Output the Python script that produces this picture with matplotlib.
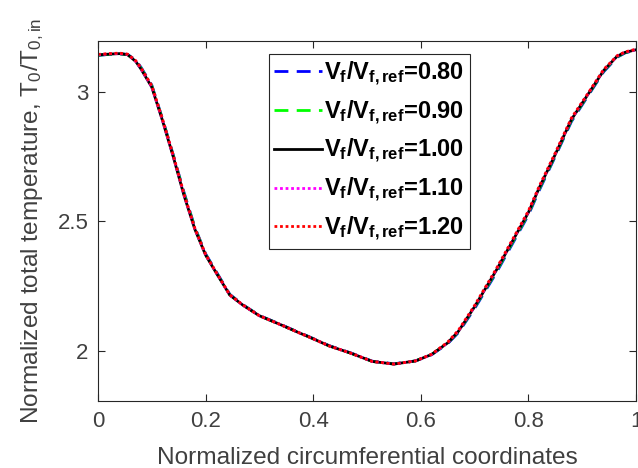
import matplotlib
matplotlib.use('Agg')
import matplotlib.pyplot as plt

plt.rcParams['font.family'] = ['Liberation Sans', 'DejaVu Sans']
plt.rcParams['mathtext.fontset'] = 'custom'
plt.rcParams['mathtext.rm'] = 'Liberation Sans'
plt.rcParams['mathtext.it'] = 'Liberation Sans'
plt.rcParams['mathtext.bf'] = 'Liberation Sans:bold'

# circumferential coordinate (shared by all cases)
x = [0.00, 0.02, 0.04, 0.055, 0.07, 0.08, 0.10, 0.12, 0.14, 0.16, 0.18, 0.20,
     0.22, 0.245, 0.27, 0.30, 0.34, 0.375, 0.39, 0.43, 0.47, 0.51, 0.55, 0.59,
     0.62, 0.65, 0.67, 0.70, 0.74, 0.78, 0.80, 0.82, 0.85, 0.88, 0.91, 0.94,
     0.965, 0.98, 1.00]

# normalized total temperature for each V_f/V_f,ref
y080 = [3.143, 3.147, 3.149, 3.147, 3.125, 3.097, 3.028, 2.897, 2.757, 2.612, 2.478, 2.375,
        2.305, 2.218, 2.177, 2.136, 2.101, 2.069, 2.056, 2.019, 1.991, 1.959, 1.949, 1.960,
        1.984, 2.027, 2.070, 2.163, 2.300, 2.450, 2.525, 2.620, 2.752, 2.887, 2.984, 3.080,
        3.136, 3.153, 3.164]
y090 = [3.144, 3.147, 3.150, 3.146, 3.122, 3.094, 3.025, 2.894, 2.754, 2.607, 2.476, 2.372,
        2.302, 2.216, 2.176, 2.135, 2.100, 2.068, 2.055, 2.018, 1.990, 1.958, 1.948, 1.960,
        1.985, 2.029, 2.073, 2.167, 2.305, 2.455, 2.530, 2.625, 2.756, 2.891, 2.987, 3.083,
        3.138, 3.154, 3.165]
y100 = [3.145, 3.148, 3.150, 3.146, 3.120, 3.090, 3.020, 2.890, 2.750, 2.600, 2.470, 2.370,
        2.300, 2.215, 2.175, 2.135, 2.100, 2.068, 2.055, 2.018, 1.990, 1.958, 1.948, 1.960,
        1.985, 2.030, 2.075, 2.170, 2.310, 2.460, 2.535, 2.630, 2.760, 2.895, 2.990, 3.085,
        3.140, 3.155, 3.165]
y110 = [3.146, 3.149, 3.151, 3.147, 3.121, 3.092, 3.022, 2.892, 2.752, 2.603, 2.472, 2.371,
        2.301, 2.215, 2.175, 2.135, 2.100, 2.068, 2.055, 2.018, 1.990, 1.958, 1.948, 1.960,
        1.985, 2.031, 2.077, 2.172, 2.313, 2.463, 2.538, 2.633, 2.763, 2.898, 2.992, 3.087,
        3.141, 3.156, 3.166]
y120 = [3.147, 3.150, 3.152, 3.148, 3.123, 3.095, 3.026, 2.896, 2.756, 2.606, 2.474, 2.373,
        2.302, 2.216, 2.176, 2.135, 2.100, 2.068, 2.055, 2.018, 1.990, 1.958, 1.948, 1.960,
        1.986, 2.033, 2.079, 2.175, 2.316, 2.466, 2.541, 2.636, 2.766, 2.901, 2.994, 3.089,
        3.142, 3.157, 3.167]

labels = ['0.80', '0.90', '1.00', '1.10', '1.20']
series = [y080, y090, y100, y110, y120]
colors = ['#0000ff', '#00ff00', '#000000', '#ff00ff', '#ff0000']
styles = [(0, (5, 3)), (0, (5, 3)), '-', (0, (1, 1)), (0, (1, 1))]

fig = plt.figure(figsize=(6.38, 4.68), dpi=100)
ax = fig.add_axes([0.1536, 0.1432, 0.8433, 0.7698])

for ys, lab, c, ls in zip(series, labels, colors, styles):
    ax.plot(x, ys, color=c, linestyle=ls, linewidth=2,
            label=r'$\mathbf{V_f/V_{f,ref}}$=' + lab)

ax.set_xlim(0, 1)
ax.set_ylim(1.805, 3.2)
ax.set_xticks([0, 0.2, 0.4, 0.6, 0.8, 1])
ax.set_xticklabels(['0', '0.2', '0.4', '0.6', '0.8', '1'])
ax.set_yticks([2, 2.5, 3])
ax.set_yticklabels(['2', '2.5', '3'])
ax.tick_params(direction='in', top=True, right=True, length=5, width=0.8,
               labelsize=16, labelcolor='#404040', color='#262626', pad=7)
for s in ax.spines.values():
    s.set_color('#262626')
    s.set_linewidth(0.8)

ax.set_xlabel('Normalized circumferential coordinates', fontsize=17.6, color='#404040', labelpad=11)
ax.set_ylabel(r'Normalized total temperature, T$_0$/T$_{0,\mathrm{in}}$', fontsize=17.6,
              color='#404040', labelpad=8)

leg = ax.legend(loc='upper left', bbox_to_anchor=(0.317, 0.963),
                prop={'weight': 'bold', 'size': 17},
                handlelength=2.0, handletextpad=0.08, labelspacing=0.45,
                borderpad=0.25, borderaxespad=0, fancybox=False, framealpha=1)
leg.get_frame().set_edgecolor('#262626')
leg.get_frame().set_linewidth(0.8)

fig.savefig('out.png', dpi=100)
